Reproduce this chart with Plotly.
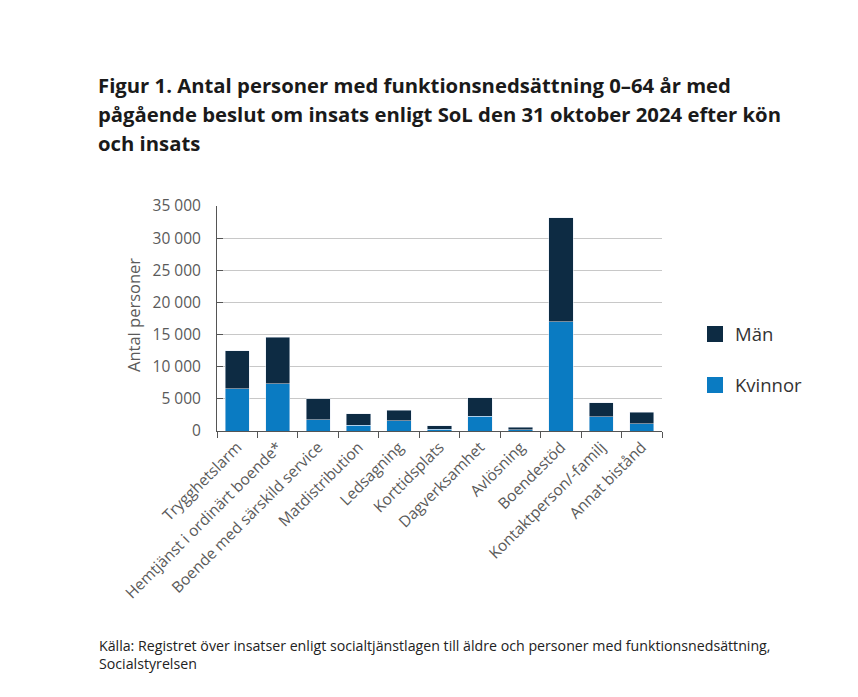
import plotly.graph_objects as go

categories = ["Trygghetslarm", "Hemtjänst i ordinärt boende*", "Boende med särskild service",
              "Matdistribution", "Ledsagning", "Korttidsplats", "Dagverksamhet", "Avlösning",
              "Boendestöd", "Kontaktperson/-familj", "Annat bistånd"]
kvinnor = [6600, 7350, 1750, 900, 1600, 300, 2300, 200, 17000, 2200, 1150]
totals = [12500, 14600, 5000, 2650, 3200, 850, 5200, 550, 33200, 4400, 2900]
man = [t - k for t, k in zip(totals, kvinnor)]

y_ticks = [0, 5000, 10000, 15000, 20000, 25000, 30000, 35000]

C_MAN = "#0d2b43"
C_KV = "#0a7bc2"
GRAY = "#5a5a5a"

fig = go.Figure()
fig.add_trace(go.Bar(x=categories, y=kvinnor, name="Kvinnor", marker_color=C_KV,
                     showlegend=False))
fig.add_trace(go.Bar(x=categories, y=man, name="Män", marker_color=C_MAN,
                     showlegend=False))
# legend entries with larger square swatches
for nm, col, grp in [("Män", C_MAN, "m"), ("Kvinnor", C_KV, "k")]:
    fig.add_trace(go.Scatter(x=[None], y=[None], mode="markers", name=nm,
                             legendgroup=grp,
                             marker=dict(symbol="square", size=17, color=col)))

W, H = 858, 697
OFF = 8  # page body offset
L, R, T, B = 217 - OFF, 662 - OFF, 206 - OFF, 431 - OFF


def px(xp):
    return (xp - OFF - L) / (R - L)


def py(yp):
    return (B - (yp - OFF)) / (B - T)


fig.update_layout(
    width=W, height=H,
    barmode="stack", bargap=0.4,
    separators=", ",
    paper_bgcolor="white", plot_bgcolor="white",
    margin=dict(l=L, r=W - R, t=T, b=H - B, autoexpand=False),
    font=dict(family="Open Sans", size=12, color=GRAY),
    showlegend=True,
    legend=dict(x=px(695), xanchor="left", y=py(360), yanchor="middle",
                traceorder="grouped", tracegroupgap=24,
                font=dict(size=18.5, color="#333333"), itemwidth=30),
    xaxis=dict(showline=True, linecolor="#555555", linewidth=1.2,
               ticks="outside", tickson="boundaries", ticklen=6, tickcolor="#555555",
               tickangle=-45, tickfont=dict(size=15.5, color=GRAY), showgrid=False),
    yaxis=dict(range=[0, 35000], tickvals=y_ticks, tickformat=",d",
               showline=True, linecolor="#555555", linewidth=1,
               showgrid=True, gridcolor="#c8c8c8", gridwidth=1,
               ticks="inside", ticklen=6, tickcolor="#555555",
               ticklabelstandoff=12,
               tickfont=dict(size=15.5, color=GRAY), zeroline=False),
)

title_lines = ["Figur 1. Antal personer med funktionsnedsättning 0–64 år med",
               "pågående beslut om insats enligt SoL den 31 oktober 2024 efter kön",
               "och insats"]
for i, line in enumerate(title_lines):
    fig.add_annotation(text=f"<b>{line}</b>", xref="paper", yref="paper",
                       x=px(96), y=py(85 + i * 29),
                       xanchor="left", yanchor="middle", showarrow=False,
                       font=dict(family="Open Sans", size=20.3, color="#1a1a1a"))

fig.add_annotation(text="Antal personer", textangle=-90, xref="paper", yref="paper",
                   x=px(133), y=py(315), xanchor="center",
                   yanchor="middle", showarrow=False, font=dict(size=16.5, color=GRAY))

src_lines = ["Källa: Registret över insatser enligt socialtjänstlagen till äldre och personer med funktionsnedsättning,",
             "Socialstyrelsen"]
for i, line in enumerate(src_lines):
    fig.add_annotation(text=line, xref="paper", yref="paper",
                       x=px(97), y=py(645 + i * 18),
                       xanchor="left", yanchor="middle", showarrow=False,
                       font=dict(size=14.2, color="#222222"))

fig.write_html("out.html")
